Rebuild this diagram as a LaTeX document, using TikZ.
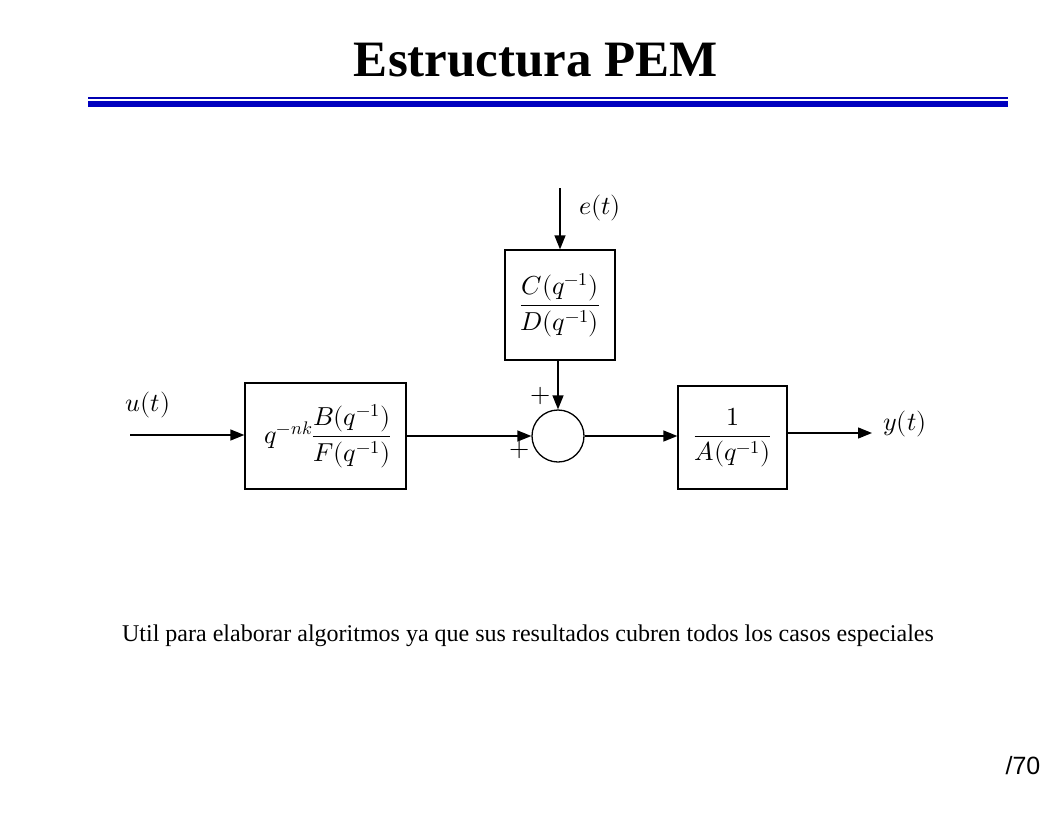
\documentclass[tikz,border=0pt]{standalone}
\usepackage{fontspec}
\setmainfont{Liberation Serif}
\setsansfont{Liberation Sans}
\usepackage{unicode-math}
\setmathfont{Latin Modern Math}
\usetikzlibrary{arrows.meta}
\begin{document}
\begin{tikzpicture}[x=1pt,y=-1pt,
  blk/.style={draw,line width=1.3pt,inner sep=0pt},
  con/.style={line width=1.3pt,-{Triangle[length=14pt,width=11pt]}},
  lbl/.style={font=\fontsize{26}{31}\selectfont}]
\useasboundingbox (0,0) rectangle (1056,816);
\node[font=\fontsize{51}{60}\selectfont\bfseries] (title) at (536,60) {Estructura PEM};
\fill[blue!70!black] (88,96.5) rectangle (1008,99);
\fill[blue!75!black] (88,101) rectangle (1008,107);
\node[blk,minimum width=161pt,minimum height=106pt] (B) at (325.5,436) {};
\node[lbl] at (328,436) {$q^{-nk}\dfrac{B(q^{-1})}{F(q^{-1})}$};
\node[blk,minimum width=110pt,minimum height=110pt,lbl] (C) at (560,305) {$\dfrac{C(q^{-1})}{D(q^{-1})}$};
\node[draw,circle,line width=1.3pt,minimum size=52pt,inner sep=0pt] (S) at (558,436) {};
\node[blk,minimum width=109pt,minimum height=103pt,lbl] (A) at (732.5,437.5) {$\dfrac{1}{A(q^{-1})}$};
\node[lbl] (u) at (148,405) {$u(t)$};
\node[lbl] (e) at (600,208) {$e(t)$};
\node[lbl] (y) at (905,424) {$y(t)$};
\coordinate (uin) at (130,435);
\coordinate (ein) at (560,188);
\coordinate (yout) at (872,433);
\draw[con] (uin) -- (B.west|-uin);
\draw[con] (ein) -- (C.north);
\draw[con] (B.east|-S) -- (S.west);
\draw[con] (C.south-|S) -- (S.north);
\draw[con] (S.east) -- (A.west|-S);
\draw[con] (A.east|-yout) -- (yout);
\node[lbl] (p1) at (541,396) {$+$};
\node[lbl] (p2) at (520,450) {$+$};
\node[font=\fontsize{24}{28}\selectfont] (txt) at (528,636) {Util para elaborar algoritmos ya que sus resultados cubren todos los casos especiales};
\node[font=\sffamily\fontsize{25}{30}\selectfont] (pg) at (1023,766) {/70};
\end{tikzpicture}
\end{document}
